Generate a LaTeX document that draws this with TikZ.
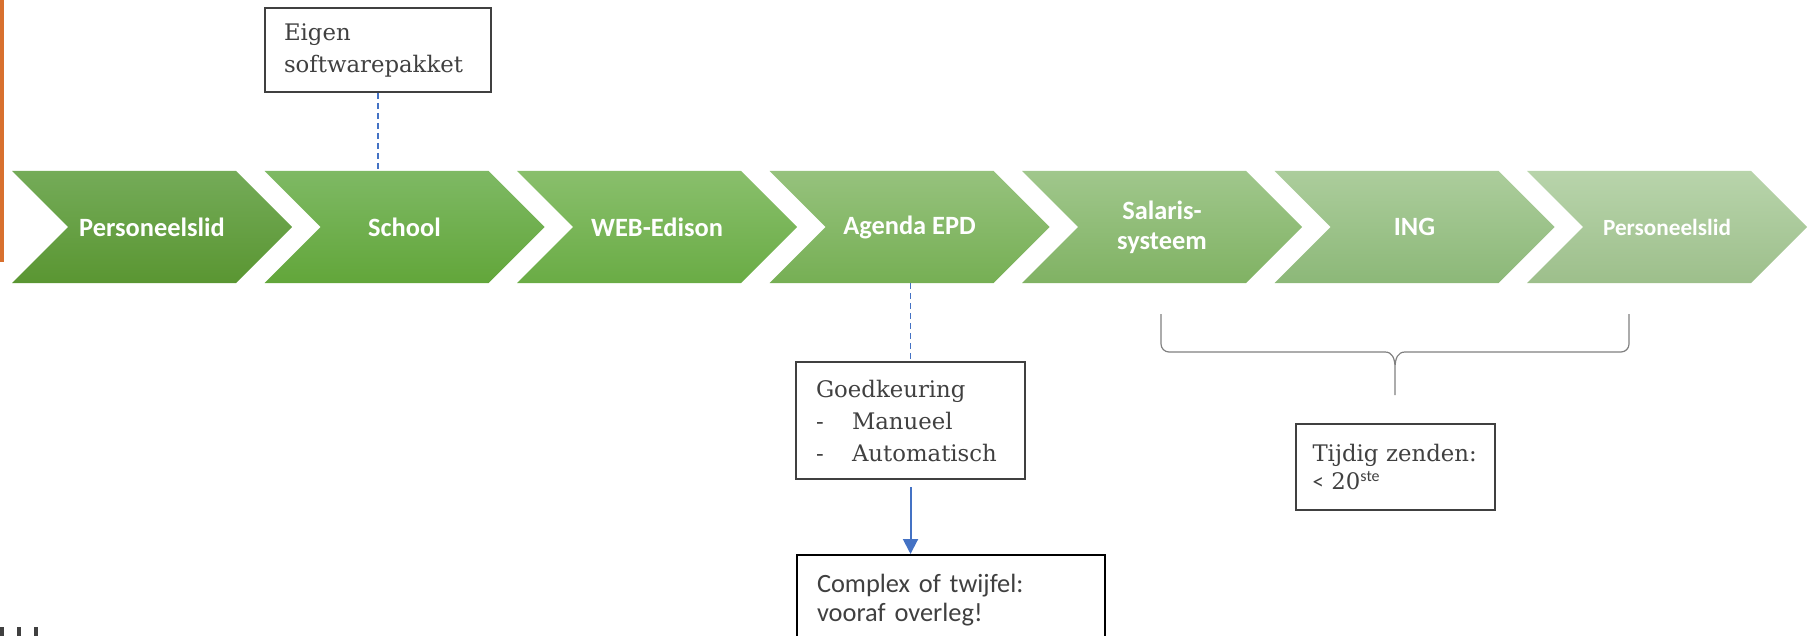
\documentclass[tikz,border=0pt]{standalone}
\usepackage{fontspec}
\setmainfont{DejaVu Serif}
\newfontfamily\calibri{Carlito}
\usepackage{tikz}
\usetikzlibrary{shapes.symbols, arrows.meta}
\definecolor{chevA1}{HTML}{74AB58}
\definecolor{chevA2}{HTML}{5A9632}
\definecolor{chevB1}{HTML}{7EB964}
\definecolor{chevB2}{HTML}{62A63A}
\definecolor{chevC1}{HTML}{89BF6C}
\definecolor{chevC2}{HTML}{6AAC45}
\definecolor{chevD1}{HTML}{96C27D}
\definecolor{chevD2}{HTML}{76AF54}
\definecolor{chevE1}{HTML}{A0C78C}
\definecolor{chevE2}{HTML}{80B263}
\definecolor{chevF1}{HTML}{ACCD9C}
\definecolor{chevF2}{HTML}{8CB878}
\definecolor{chevG1}{HTML}{B8D4AB}
\definecolor{chevG2}{HTML}{9DBF8B}
\definecolor{boxgray}{HTML}{404040}
\definecolor{textgray}{HTML}{404040}
\definecolor{linkblue}{HTML}{4472C4}
\definecolor{bracegray}{HTML}{808080}
\definecolor{slideorange}{HTML}{D8702E}

\begin{document}
\begin{tikzpicture}[x=0.5pt, y=-0.5pt,
    chev/.style={shape=signal, signal from=west, signal to=east, signal pointer angle=90,
        minimum width=140pt, minimum height=56pt, inner sep=0pt, text=white, align=center},
    box/.style={draw=boxgray, line width=1pt, text=textgray, align=left, inner sep=0pt,
        font=\fontsize{11.4}{16}\selectfont},
    link/.style={draw=linkblue, line width=0.6pt, dash pattern=on 3pt off 2pt}]
\clip (0,0) rectangle (1808,636);
\fill[slideorange] (0,0) rectangle (4,262);
\foreach \x in {0,17,34}
    \fill[boxgray] (\x,627) rectangle ({\x+4},636);
\foreach \i/\txt/\tc/\bc/\fs in {1/Personeelslid/chevA1/chevA2/13.2,
    2/School/chevB1/chevB2/13.2,
    3/WEB-Edison/chevC1/chevC2/13.2,
    4/Agenda EPD/chevD1/chevD2/13.2,
    5/{Salaris-\\systeem}/chevE1/chevE2/13.2,
    6/ING/chevF1/chevF2/13.2,
    7/Personeelslid/chevG1/chevG2/11.6}
    \node[chev, top color=\tc, bottom color=\bc, font=\calibri\bfseries\fontsize{\fs}{15}\selectfont]
        (c\i) at ({152+252.5*(\i-1)},227) {\txt};
\node[box, minimum width=113pt, minimum height=42pt, text width=94pt] (eigen) at (378,50)
    {Eigen\\softwarepakket};
\node[box, minimum width=114.5pt, minimum height=58.5pt, text width=94.5pt] (goed) at (910.5,420.5)
    {Goedkeuring\\\makebox[18pt][l]{-}Manueel\\\makebox[18pt][l]{-}Automatisch};
\node[box, draw=black, anchor=north west, inner xsep=10pt, inner ysep=9.5pt, text width=134pt,
    font=\calibri\fontsize{13.2}{14.5}\selectfont] (cplx) at (796,554)
    {Complex of twijfel:\\vooraf overleg!};
\node[box, minimum width=99.5pt, minimum height=43pt, text width=83pt] (tijdig) at (1395.5,467)
    {\mbox{Tijdig zenden:}\\[-2pt]{\calibri<} 20\textsuperscript{\calibri ste}};
\draw[link] (eigen.south) -- (eigen.south |- c2.north);
\draw[link] (goed.north |- c4.south) -- (goed.north);
\draw[linkblue, line width=1pt, shorten <=3.5pt, -{Triangle[width=7.5pt, length=7.5pt]}]
    (goed.south) -- (goed.south |- cplx.north);
\coordinate (bl) at (1161,314);
\coordinate (br) at (1629,314);
\coordinate (tip) at (1395,395);
\draw[bracegray, line width=0.6pt, rounded corners=4pt]
    (bl) -- (1161,352) -- (1385,352);
\draw[bracegray, line width=0.6pt, rounded corners=4pt]
    (br) -- (1629,352) -- (1405,352);
\draw[bracegray, line width=0.6pt]
    (1385,352) .. controls (1392,352) and (1395,358) .. (1395,368) -- (tip)
    (1405,352) .. controls (1398,352) and (1395,358) .. (1395,368);
\end{tikzpicture}
\end{document}
